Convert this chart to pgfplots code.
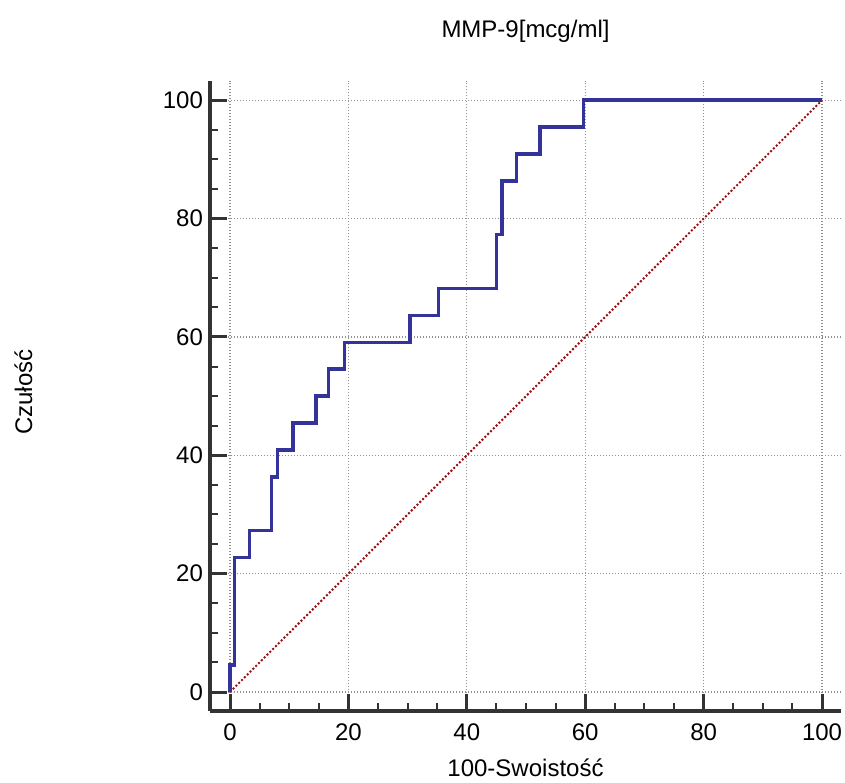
\documentclass[border=0pt]{standalone}
\usepackage{fontspec}
\setmainfont{Liberation Sans}
\usepackage{pgfplots}
\pgfplotsset{compat=1.18}
\definecolor{rocblue}{RGB}{51,51,153}
\definecolor{diagred}{RGB}{150,20,20}
\definecolor{spine}{RGB}{51,51,51}
\definecolor{gridgray}{RGB}{145,145,145}

\begin{document}
\begin{tikzpicture}
\path[use as bounding box] (-105pt,-35.5pt) rectangle (317.5pt,355.5pt);
\begin{axis}[
    at={(0,0)}, anchor=south west,
    scale only axis,
    width=315.5pt, height=315.2pt,
    xmin=-3.38, xmax=103.2,
    ymin=-3.2, ymax=103.3,
    axis x line*=bottom,
    axis y line*=left,
    axis line style={line width=2pt, color=spine},
    xtick={0,20,...,100},
    ytick={0,20,...,100},
    minor x tick num=3,
    minor y tick num=3,
    tick align=inside,
    major tick length=8.5pt,
    minor tick length=4pt,
    major tick style={line width=1.5pt, color=spine},
    minor tick style={line width=1pt, color=spine},
    grid=major,
    major grid style={gridgray, line width=0.6pt, dash pattern=on 0.6pt off 0.9pt},
    /pgf/number format/assume math mode=true,
    tick label style={font=\fontsize{12}{14}\selectfont},
    xticklabel style={yshift=-3pt},
    label style={font=\fontsize{12}{14}\selectfont},
    % the default title style already shifts it up by 6pt
    title style={font=\fontsize{12}{14}\selectfont, at={(0.5,1.0487)}, anchor=base},
    title={MMP-9[mcg/ml]},
    xlabel={100-Swoistość},
    xlabel style={at={(0.5,-0.1042)}, anchor=base},
    ylabel={Czułość},
    ylabel style={at={(-0.282,0.506)}, anchor=base, rotate=0},
]
% chance line
\addplot[diagred, line width=1pt, dash pattern=on 1pt off 1pt] coordinates {(0,0) (100,100)};
% ROC curve
\addplot[rocblue, line width=1.75pt, line join=miter] coordinates {
    (0,0) (0,4.55) (0.73,4.55) (0.73,22.73) (3.27,22.73) (3.27,27.27)
    (7.04,27.27) (7.04,36.36) (8.05,36.36) (8.05,40.91) (10.6,40.91) (10.6,45.45)
    (14.5,45.45) (14.5,50) (16.6,50) (16.6,54.55) (19.3,54.55) (19.3,59.09)
    (30.4,59.09) (30.4,63.64) (35.2,63.64) (35.2,68.18) (45.05,68.18) (45.05,77.27)
    (45.9,77.27) (45.9,86.36) (48.4,86.36) (48.4,90.91) (52.4,90.91) (52.4,95.45)
    (59.7,95.45) (59.7,100) (100,100)
};
\end{axis}
\end{tikzpicture}
\end{document}
